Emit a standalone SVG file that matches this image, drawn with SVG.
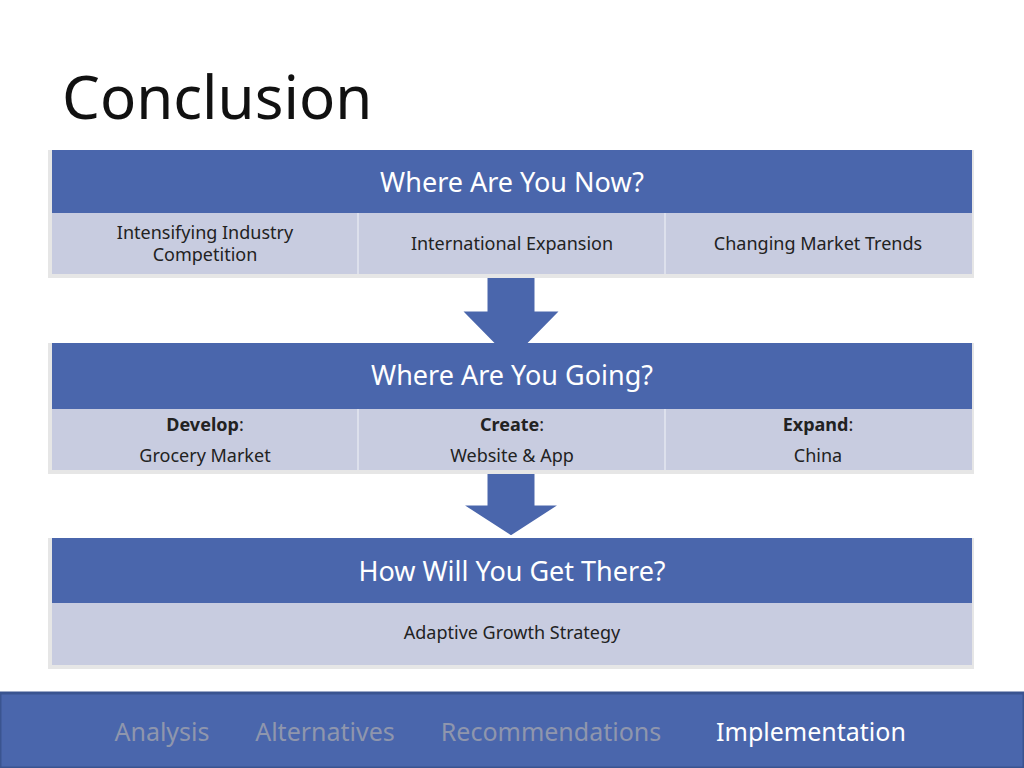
<svg xmlns="http://www.w3.org/2000/svg" width="1024" height="768" viewBox="0 0 1024 768">
<style>
.hd{fill:#4a66ac}
.sb{fill:#c8cce0}
.ht{font-family:"Noto Sans",sans-serif;font-size:27px;fill:#fff;text-anchor:middle}
.st{font-family:"Noto Sans",sans-serif;font-size:18px;fill:#222;text-anchor:middle}
.ft{font-family:"Noto Sans",sans-serif;font-size:25px;text-anchor:middle}
.sep{stroke:#dde0ec;stroke-width:2}
.ar{fill:#4a66ac;stroke:#fff;stroke-width:3}
</style>
<rect width="1024" height="768" fill="#fff"/>
<text x="62" y="119" font-family="Noto Sans,sans-serif" font-size="60" fill="#111">Conclusion</text>
<g id="connectors">
<polygon class="ar" points="486,272 536,272 536,310 562,310 511,362 460,310 486,310"/>
<polygon class="ar" points="486,467 536,467 536,504 562,504 511,537 460,504 486,504"/>
</g>
<g id="box1">
<rect x="48" y="150" width="926" height="128" fill="#e6e6e6"/>
<rect class="hd" x="52" y="150" width="920" height="63"/>
<rect class="sb" x="52" y="213" width="920" height="61"/>
<line class="sep" x1="358" y1="213" x2="358" y2="274"/><line class="sep" x1="665" y1="213" x2="665" y2="274"/>
<text class="ht" x="512" y="192">Where Are You Now?</text>
<text class="st" x="205" y="239">Intensifying Industry</text>
<text class="st" x="205" y="261">Competition</text>
<text class="st" x="512" y="250">International Expansion</text>
<text class="st" x="818" y="250">Changing Market Trends</text>
</g>
<g id="box2">
<rect x="48" y="343" width="926" height="131" fill="#e6e6e6"/>
<rect class="hd" x="52" y="343" width="920" height="66"/>
<rect class="sb" x="52" y="409" width="920" height="61"/>
<line class="sep" x1="358" y1="409" x2="358" y2="470"/><line class="sep" x1="665" y1="409" x2="665" y2="470"/>
<text class="ht" x="512" y="385">Where Are You Going?</text>
<text class="st" x="205" y="431"><tspan font-weight="bold">Develop</tspan>:</text>
<text class="st" x="205" y="462">Grocery Market</text>
<text class="st" x="512" y="431"><tspan font-weight="bold">Create</tspan>:</text>
<text class="st" x="512" y="462">Website &amp; App</text>
<text class="st" x="818" y="431"><tspan font-weight="bold">Expand</tspan>:</text>
<text class="st" x="818" y="462">China</text>
</g>
<g id="box3">
<rect x="48" y="538" width="926" height="131" fill="#e6e6e6"/>
<rect class="hd" x="52" y="538" width="920" height="65"/>
<rect class="sb" x="52" y="603" width="920" height="62"/>
<text class="ht" x="512" y="581">How Will You Get There?</text>
<text class="st" x="512" y="639">Adaptive Growth Strategy</text>
</g>
<g id="footer">
<rect x="0" y="693" width="1024" height="75" fill="#4a66ac" stroke="#3a5490" stroke-width="3"/>
<text class="ft" x="162" y="741" fill="#8f96ad">Analysis</text>
<text class="ft" x="325" y="741" fill="#8f96ad">Alternatives</text>
<text class="ft" x="551" y="741" fill="#8f96ad">Recommendations</text>
<text class="ft" x="811" y="741" fill="#fff">Implementation</text>
</g>
</svg>
